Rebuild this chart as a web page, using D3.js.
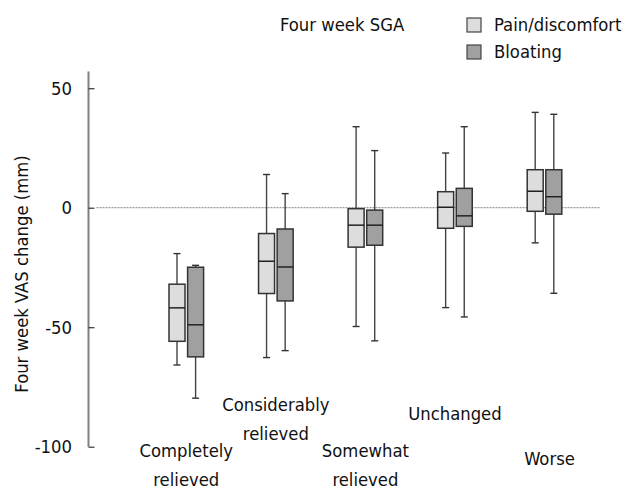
<!DOCTYPE html>
<html>
<head>
<meta charset="utf-8">
<script src="https://cdn.jsdelivr.net/npm/d3@7"></script>
<style>
  html, body { margin: 0; padding: 0; background: #fff; }
  svg { display: block; font-family: "DejaVu Sans Condensed", "DejaVu Sans", Verdana, sans-serif; font-stretch: condensed; }
</style>
</head>
<body>
<svg id="chart" width="625" height="490"></svg>
<script>
// Four-week global assessment groups
const categories = ["Completely relieved", "Considerably relieved", "Somewhat relieved", "Unchanged", "Worse"];
const seriesNames = ["Pain/discomfort", "Bloating"];
// Box summaries per group: [min, q1, median, q3, max]
const painStats = [
  [-65.8, -55.9, -41.9, -32.0, -19.2],
  [-62.7, -35.9, -22.4, -10.8, 13.9],
  [-49.7, -16.5, -7.3, -0.4, 33.9],
  [-41.8, -8.6, 0.2, 6.7, 22.9],
  [-14.7, -1.5, 6.9, 15.9, 39.9]
];
const bloatingStats = [
  [-79.7, -62.4, -49.0, -24.9, -24.1],
  [-59.8, -39.0, -24.8, -8.9, 5.9],
  [-55.7, -15.7, -7.3, -1.0, 23.9],
  [-45.7, -7.8, -3.4, 8.1, 33.9],
  [-35.8, -2.7, 4.6, 15.9, 39.1]
];
const yTicks = [50, 0, -50, -100];
const yTitle = "Four week VAS change (mm)";
const legendTitle = "Four week SGA";

const fills = ["#dcdddc", "#a0a0a0"];
const fontSize = 18.3;
const svg = d3.select("#chart");

const y = d3.scaleLinear().domain([-100, 57]).range([446.7, 71.5]);
const x = d3.scalePoint().domain(categories).range([186.3, 544.5]);
const sub = d3.scalePoint().domain(seriesNames).range([-9.3, 9.3]);
const boxW = 16, capW = 7;
const axisX = 88.5;

// zero reference line
svg.append("line")
  .attr("x1", axisX + 8).attr("x2", 600)
  .attr("y1", y(0)).attr("y2", y(0))
  .attr("stroke", "#999").attr("stroke-width", 1.2)
  .attr("stroke-dasharray", "2,1");

// y axis
const yAxis = d3.axisRight(y).tickValues(yTicks).tickSize(6).tickFormat("");
const ya = svg.append("g").attr("transform", `translate(${axisX},0)`).call(yAxis);
ya.select(".domain").attr("stroke", "#808080").attr("stroke-width", 2).attr("d", `M0,${y.range()[1]}V${y.range()[0]}`);
ya.selectAll(".tick line").attr("stroke", "#333").attr("stroke-width", 1.2);
svg.append("g").selectAll("text").data(yTicks).join("text")
  .attr("x", 72).attr("y", d => y(d)).attr("dy", "0.36em")
  .attr("text-anchor", "end").attr("font-size", fontSize).attr("fill", "#111")
  .text(d => d);

svg.append("text")
  .attr("transform", `translate(28,274) rotate(-90)`)
  .attr("text-anchor", "middle").attr("font-size", fontSize).attr("fill", "#111")
  .text(yTitle);

// boxes
const series = [painStats, bloatingStats];
series.forEach((stats, si) => {
  const g = svg.append("g");
  const items = stats.map((s, i) => ({cat: categories[i], s, cx: x(categories[i]) + sub(seriesNames[si])}));
  const grp = g.selectAll("g").data(items).join("g");
  // whisker stems
  grp.append("line")
    .attr("x1", d => d.cx).attr("x2", d => d.cx)
    .attr("y1", d => y(d.s[4])).attr("y2", d => y(d.s[0]))
    .attr("stroke", "#444").attr("stroke-width", 1.4);
  // caps
  grp.selectAll("line.cap").data(d => [d, d].map((v, k) => ({cx: d.cx, v: k ? d.s[0] : d.s[4]}))).join("line")
    .attr("class", "cap")
    .attr("x1", d => d.cx - capW / 2).attr("x2", d => d.cx + capW / 2)
    .attr("y1", d => y(d.v)).attr("y2", d => y(d.v))
    .attr("stroke", "#333").attr("stroke-width", 1.4);
  grp.append("rect")
    .attr("x", d => d.cx - boxW / 2).attr("width", boxW)
    .attr("y", d => y(d.s[3])).attr("height", d => y(d.s[1]) - y(d.s[3]))
    .attr("fill", fills[si]).attr("stroke", "#333").attr("stroke-width", 1.5);
  grp.append("line")
    .attr("x1", d => d.cx - boxW / 2).attr("x2", d => d.cx + boxW / 2)
    .attr("y1", d => y(d.s[2])).attr("y2", d => y(d.s[2]))
    .attr("stroke", "#222").attr("stroke-width", 1.5);
});

// category labels, staggered in rows under the plot
const labelRows = [457, 411, 457, 420, 465];
const catG = svg.append("g");
categories.forEach((c, i) => {
  const words = c.split(" ");
  const t = catG.append("text")
    .attr("text-anchor", "middle").attr("font-size", fontSize).attr("fill", "#111");
  words.forEach((w, k) => {
    t.append("tspan").attr("x", x(c) + (i === 4 ? 5 : 0))
      .attr("y", labelRows[i] + k * 29).text(w);
  });
});

// legend
svg.append("text").attr("x", 280).attr("y", 31).attr("font-size", fontSize).attr("fill", "#111").text(legendTitle);
const leg = svg.append("g").selectAll("g").data(seriesNames).join("g")
  .attr("transform", (d, i) => `translate(467,${18 + i * 27})`);
leg.append("rect").attr("width", 14).attr("height", 14)
  .attr("fill", (d, i) => fills[i]).attr("stroke", "#444").attr("stroke-width", 1.2);
leg.append("text").attr("x", 27).attr("y", 13).attr("font-size", fontSize).attr("fill", "#111").text(d => d);
</script>
</body>
</html>
